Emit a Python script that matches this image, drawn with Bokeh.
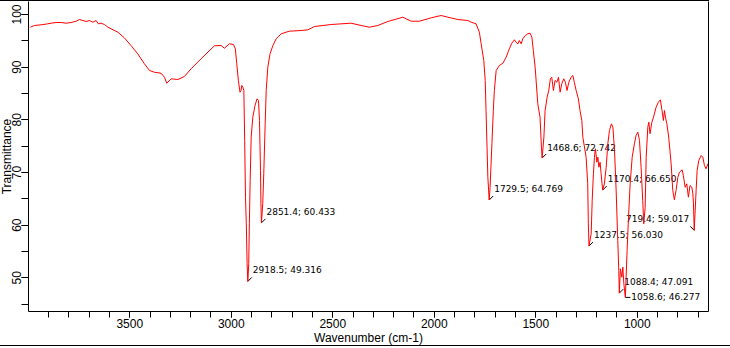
from bokeh.plotting import figure
from bokeh.models import Range1d, SingleIntervalTicker, FixedTicker, LinearAxis, ColumnDataSource
from bokeh.core.properties import value
from bokeh.embed import file_html
from bokeh.resources import INLINE

# ---------------- data ----------------
WAVENUMBER = [
    3990, 3970, 3937, 3904, 3888, 3863, 3838, 3814, 3789, 3764, 3748, 3731, 3715, 3699,
    3682, 3666, 3655, 3641, 3625, 3608, 3559, 3527, 3494, 3461, 3428, 3403, 3379, 3346,
    3329, 3318, 3296, 3263, 3231, 3198, 3149, 3083, 3050, 3034, 3009, 2989, 2980, 2973,
    2965, 2957, 2952, 2948, 2943, 2938, 2934, 2930, 2926, 2922, 2918.5, 2914, 2911, 2907,
    2902, 2894, 2883, 2873, 2866, 2861, 2856, 2854, 2851.4, 2845, 2840, 2833, 2828, 2820,
    2809, 2795, 2779, 2754, 2714, 2656, 2623, 2590, 2508, 2410, 2360, 2319, 2278, 2229,
    2155, 2114, 2073, 2015, 1966, 1933, 1884, 1835, 1818, 1794, 1778, 1769, 1756, 1749,
    1745, 1740, 1736, 1729.5, 1725, 1716, 1709, 1704, 1695, 1679, 1662, 1646, 1630, 1618,
    1605, 1597, 1588, 1581, 1572, 1564, 1551, 1539, 1528, 1519, 1512, 1503, 1490, 1479,
    1472, 1468.6, 1460, 1454, 1444, 1436, 1428, 1421, 1413, 1405, 1396, 1388, 1380, 1372,
    1362, 1354, 1346, 1337, 1326, 1317, 1310, 1301, 1290, 1282, 1273, 1268, 1252, 1244,
    1241, 1237.5, 1227, 1222, 1216, 1211, 1206, 1199, 1194, 1189, 1183, 1178, 1170.4, 1162,
    1153, 1145, 1137, 1127, 1120, 1112, 1104, 1096, 1091, 1088.4, 1083, 1076, 1071, 1066,
    1058.6, 1050, 1043, 1035, 1025, 1014, 1006, 997, 989, 981, 973, 968, 961, 956,
    948, 943, 937, 928, 920, 907, 896, 886, 878, 871, 866, 861, 854, 845,
    833, 825, 817, 809, 800, 792, 779, 773, 764, 756, 748, 740, 731, 726,
    723, 719.4, 710, 705, 697, 685, 677, 669, 661, 652, 644,
]
TRANSMITTANCE = [
    97.59, 97.91, 98.04, 98.23, 98.35, 98.48, 98.48, 98.35, 98.48, 98.73, 99.05, 98.86, 98.67, 98.86,
    98.54, 98.86, 98.23, 98.35, 98.10, 97.59, 96.64, 95.58, 94.11, 92.54, 90.64, 89.37, 89.04, 88.85,
    88.09, 86.95, 87.79, 87.66, 88.23, 89.69, 91.59, 94.06, 94.11, 93.60, 94.44, 94.30, 93.49, 90.64,
    87.47, 85.24, 85.57, 86.52, 86.19, 85.57, 76.07, 65.31, 60.25, 52.66, 49.316, 52.66, 60.25, 68.48,
    76.70, 80.50, 82.72, 83.99, 83.67, 79.87, 70.38, 64.05, 60.433, 64.05, 69.75, 79.24, 85.57, 89.99,
    92.54, 94.11, 95.39, 96.34, 96.83, 96.96, 97.09, 97.72, 98.10, 98.35, 97.91, 97.59, 97.91, 98.67,
    99.49, 98.73, 98.73, 99.37, 99.81, 99.49, 99.05, 98.86, 98.54, 98.23, 96.64, 94.44, 91.26, 87.47,
    81.77, 74.80, 69.10, 64.769, 67.20, 75.45, 81.77, 85.57, 89.37, 90.32, 90.75, 91.89, 93.49, 94.55,
    95.20, 94.74, 94.44, 95.06, 94.44, 95.39, 96.01, 96.34, 96.45, 95.69, 93.16, 89.99, 83.04, 80.50,
    74.80, 72.742, 76.70, 81.77, 84.30, 85.57, 87.79, 88.09, 85.57, 87.47, 87.14, 88.09, 85.24, 86.84,
    87.79, 87.14, 85.57, 87.14, 88.09, 88.42, 87.14, 85.57, 83.99, 81.77, 79.87, 76.70, 72.90, 67.85,
    60.25, 56.030, 58.36, 64.68, 69.75, 72.90, 74.50, 71.95, 72.90, 71.00, 71.95, 69.75, 66.650, 67.85,
    71.00, 75.45, 77.97, 79.24, 78.60, 74.17, 66.58, 57.08, 51.39, 47.091, 51.71, 50.11, 52.01, 48.86,
    46.277, 55.18, 61.51, 67.85, 72.90, 75.45, 77.02, 77.65, 76.07, 71.00, 64.68, 60.25, 63.41, 72.90,
    78.60, 79.55, 77.35, 79.55, 80.50, 82.40, 83.35, 83.80, 81.77, 79.87, 81.77, 80.50, 79.24, 76.70,
    71.65, 66.58, 64.81, 66.58, 69.10, 70.05, 70.51, 69.43, 67.20, 67.85, 65.31, 67.53, 67.20, 65.95,
    64.05, 59.017, 66.58, 70.38, 72.27, 73.22, 72.90, 71.33, 70.70, 71.65, 71.95,
]

PEAK_WN = [2918.5, 2851.4, 1729.5, 1468.6, 1237.5, 1170.4, 1088.4, 1058.6, 719.4]
PEAK_T = [49.316, 60.433, 64.769, 72.742, 56.030, 66.650, 47.091, 46.277, 59.017]
PEAK_LABELS = [f"{w:.1f}; {t:.3f}" for w, t in zip(PEAK_WN, PEAK_T)]

X_LABEL = "Wavenumber (cm-1)"
Y_LABEL = "Transmittance"

# ---------------- layout / style ----------------
SHIFT = 5                      # canvas pulled left by this many pixels
W, H = 730 + SHIFT, 346
BORDER_L, BORDER_R, BORDER_T, BORDER_B = 28 + SHIFT, 22, 0, 36
FRAME_W = W - BORDER_L - BORDER_R
FRAME_H = H - BORDER_T - BORDER_B
X_START, X_END = 3999, 649
Y_START, Y_END = 43.60, 102.47
TOP_RULE_W = W - BORDER_R + 1  # top rule ends at the frame's right edge

# label placement (screen pixels) for each peak annotation
LBL_DX = [5, 5, 5, 5, 5, 5, 5, 6, -5]
LBL_DY = [-11, -11, -11, -10, -11, -11, -11, 0, -11]
LBL_ALIGN = ["left"] * 8 + ["right"]
LEAD_DX = [4, 4, 4, 4, 4, 4, 4, 5, -4]
LEAD_DY = [-4, -4, -4, -4, -4, -4, -4, 0, -4]

FONT = "Liberation Sans"

p = figure(width=W, height=H, output_backend="svg", toolbar_location=None,
           x_range=Range1d(X_START, X_END), y_range=Range1d(Y_START, Y_END),
           min_border_left=BORDER_L, min_border_right=BORDER_R,
           min_border_top=BORDER_T, min_border_bottom=BORDER_B,
           outline_line_color=None, background_fill_color="white",
           border_fill_color="white")
p.styles = {
    "padding-top": "1px",
    "padding-bottom": "1px",
    "margin-left": f"-{SHIFT}px",
    "background": (f"linear-gradient(#000, #000) left top / {TOP_RULE_W}px 1px no-repeat, "
                   "linear-gradient(#000, #000) left bottom / 100% 1px no-repeat"),
}
p.grid.visible = False

p.xaxis.ticker = SingleIntervalTicker(interval=500, num_minor_ticks=5)
p.yaxis.ticker = SingleIntervalTicker(interval=10, num_minor_ticks=2)
for ax in (p.xaxis[0], p.yaxis[0]):
    ax.axis_line_color = "black"
    ax.major_tick_line_color = "black"
    ax.minor_tick_line_color = "black"
    ax.major_tick_in = 0
    ax.minor_tick_in = 0
    ax.major_label_text_font = FONT
    ax.major_label_text_font_size = "12px"
    ax.major_label_text_color = "black"
    ax.axis_label_text_font = FONT
    ax.axis_label_text_font_size = "12px"
    ax.axis_label_text_font_style = "normal"
    ax.axis_label_text_color = "black"
p.xaxis.major_tick_out = 6
p.xaxis.minor_tick_out = 6
p.xaxis.major_label_standoff = 1
p.xaxis.axis_label = X_LABEL
p.xaxis.axis_label_standoff = 0
p.yaxis.major_tick_out = 7
p.yaxis.minor_tick_out = 7
p.yaxis.major_label_standoff = 0
p.yaxis.major_label_orientation = "vertical"
p.yaxis.axis_label = Y_LABEL
p.yaxis.axis_label_standoff = -4

right_axis = LinearAxis(ticker=FixedTicker(ticks=[]), axis_line_color="black",
                        major_tick_line_color=None, minor_tick_line_color=None,
                        major_label_standoff=0)
p.add_layout(right_axis, "right")

# peak annotations: text first, then the spectrum drawn over it
xpx = (X_START - X_END) / FRAME_W
ypx = (Y_END - Y_START) / FRAME_H
for i in range(len(PEAK_WN)):
    p.text(x=[PEAK_WN[i]], y=[PEAK_T[i]], text=[PEAK_LABELS[i]],
           x_offset=LBL_DX[i], y_offset=LBL_DY[i], text_align=LBL_ALIGN[i],
           text_baseline="middle", text_font=value("DejaVu Sans"),
           text_font_size="9px", text_color="black")

lead = ColumnDataSource(dict(
    x0=PEAK_WN, y0=PEAK_T,
    x1=[w - dx * xpx for w, dx in zip(PEAK_WN, LEAD_DX)],
    y1=[t - dy * ypx for t, dy in zip(PEAK_T, LEAD_DY)],
))
p.segment(x0="x0", y0="y0", x1="x1", y1="y1", source=lead,
          line_color="black", line_width=1)

p.line(WAVENUMBER, TRANSMITTANCE, line_color="#ff0000", line_width=1)

open("out.html", "w").write(file_html(p, INLINE))
